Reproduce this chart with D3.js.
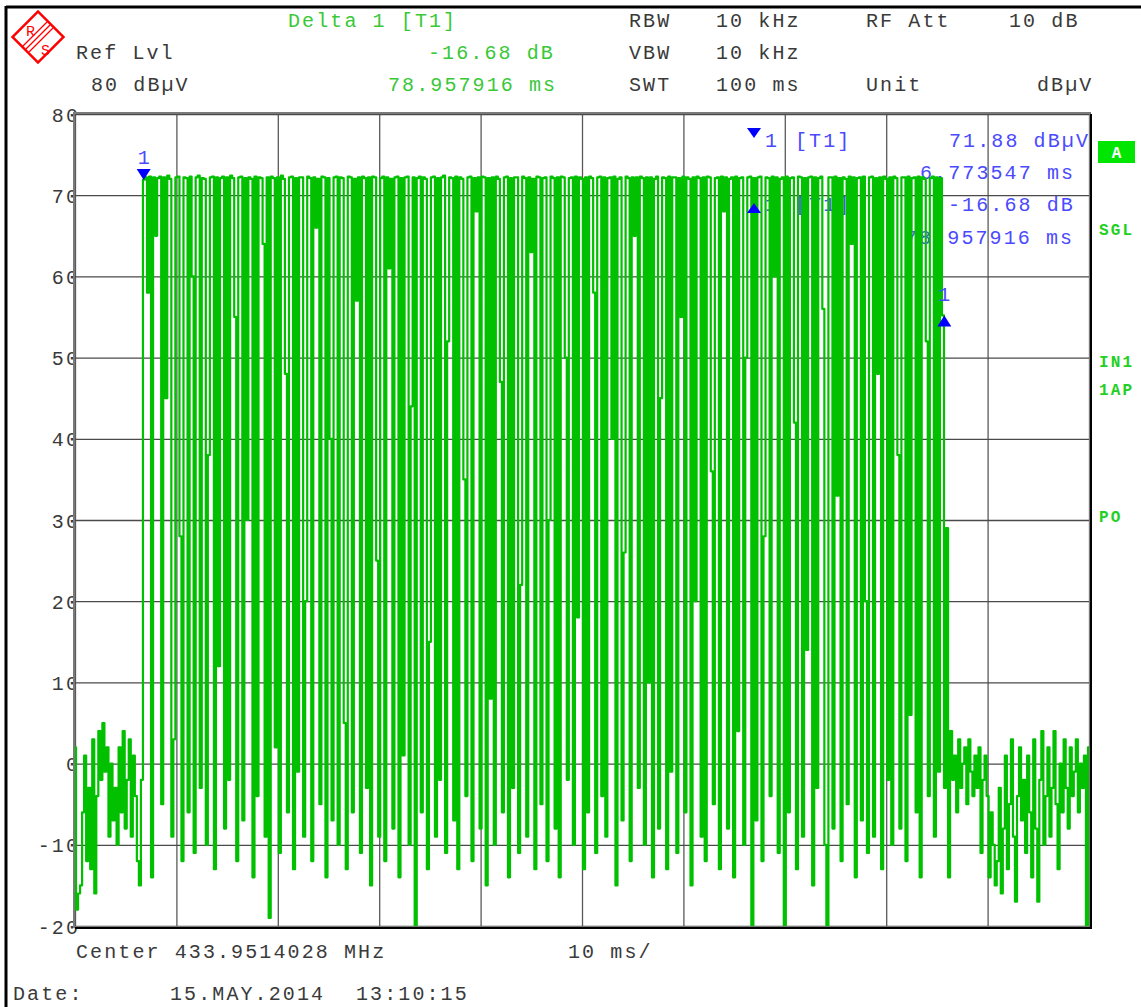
<!DOCTYPE html>
<html>
<head>
<meta charset="utf-8">
<script src="https://cdnjs.cloudflare.com/ajax/libs/d3/7.8.5/d3.min.js"></script>
<style>
  body { margin: 0; background: #fff; }
  text { font-family: "Liberation Mono", "Courier New", monospace; }
</style>
</head>
<body>
<div id="screen"></div>
<script>
// Canvas size
var width = 1141;
var height = 1007;

// Plot area of the analyzer screen
var plotLeft = 75;
var plotRight = 1089;
var plotTop = 114;
var plotBottom = 926;

// Axis ranges
var sweepMs = 100;
var yTicks = [80, 70, 60, 50, 40, 30, 20, 10, 0, -10, -20];
var xTicks = [0, 10, 20, 30, 40, 50, 60, 70, 80, 90, 100];

// Marker readouts
var marker1Ms = 6.773547;
var marker1Db = 71.88;
var deltaMs = 78.957916;
var deltaDb = -16.68;

// Trace levels (dBuV), 501 sweep points, 0.2 ms apart
// Noise floor before the burst
var noiseBefore = [
  2, -18, -16, -15, -6, 1, -12, -3, -13, 3, -16, -4, 4, -2, 5, -1, 2,
  -9, 0, -7, -3, -10, 2, -6, 4, -8, -2, 3, -9, 1, -4, -12, -15, -2
];

// OOK burst
var burst = [
  71.9, 72.2, 58, 72.3, -14, 72.2, 65, 72.1, 72.3, -5,
  72.2, 45, 72.4, 72.0, -9, 3, 72.2, 72.3, 28, -12,
  72.2, 72.1, -6, 72.3, 60, -11, 72.2, 72.4, -3, 72.1,
  72.0, -10, 38, 72.2, 72.3, -13, 72.2, 12, 72.1, 72.3,
  -8, 72.2, -2, 72.4, 72.1, 55, -12, 72.2, 72.3, -7,
  72.1, 30, 72.2, 72.0, -14, 72.3, -4, 72.2, 72.1, 64,
  -9, 72.2, -19, 72.3, 72.1, 2, 72.2, -11, 72.4, 72.0,
  48, -6, 72.2, 72.3, -13, 72.1, -1, 72.2, 72.2, -9,
  20, 72.3, 72.1, -12, 72.2, 66, 72.0, -5, 72.3, 72.2,
  -14, 72.1, 40, -7, 72.2, 72.3, -10, 72.2, 72.1, 5,
  -13, 72.3, 72.2, -6, 72.0, 57, 72.2, -11, 72.3, 72.1,
  -3, 72.2, -15, 72.3, 72.2, 25, -9, 72.1, 72.3, -12,
  72.2, 61, 72.0, -8, 72.2, 72.3, -14, 72.1, 1, 72.2,
  72.3, -10, 44, 72.2, -20, 72.1, 72.3, -6, 72.2, 72.0,
  -13, 15, 72.2, 72.3, -9, 72.1, -2, 72.2, 72.4, -11,
  52, 72.2, 72.1, -7, 72.3, -13, 72.2, 72.0, 35, -4,
  72.2, 72.3, -12, 72.1, 68, 72.2, -8, 72.3, 72.2, -15,
  72.1, 8, 72.2, -10, 72.3, 72.0, 47, -6, 72.2, 72.3,
  -14, 72.1, -3, 72.2, 72.2, -11, 22, 72.3, 72.1, -9,
  72.2, 63, 72.0, -13, 72.3, 72.2, -5, 72.1, 72.2, -12,
  30, 72.3, 72.1, -8, 72.2, -14, 72.3, 72.2, 50, -2,
  72.1, 72.2, -10, 72.3, 18, 72.2, 72.0, -13, 72.2, -6,
  72.3, 72.1, 58, -11, 72.2, 72.3, -4, 72.2, -9, 72.1,
  72.2, 40, 72.3, -15, 72.0, 72.2, -7, 26, 72.3, 72.1,
  -12, 72.2, 65, 72.2, -3, 72.3, 72.1, -10, 72.2, 10,
  72.2, -14, 72.0, 72.3, -8, 45, 72.2, 72.1, -13, 72.3,
  -1, 72.2, 72.2, -11, 72.1, 55, 72.3, -6, 72.2, 72.0,
  -15, 72.2, 20, 72.3, 72.1, -9, 72.2, -12, 72.3, 72.2,
  36, -5, 72.1, 72.2, -13, 72.3, 68, 72.2, -8, 72.0,
  72.2, -14, 72.3, 4, 72.1, 72.2, -10, 50, 72.2, 72.3,
  -20, 72.1, -7, 72.2, 72.3, -12, 28, 72.2, 72.1, -4,
  72.3, 60, 72.2, -11, 72.0, 72.2, -20, 72.3, -6, 72.1,
  72.2, 42, -13, 72.3, 72.2, -9, 72.1, 14, 72.2, 72.3,
  -15, 72.2, -3, 72.1, 72.3, 56, -10, -20, 72.2, 72.2,
  -8, 72.3, 33, 72.1, -12, 72.2, 72.0, -5, 72.3, 64,
  72.2, -14, 72.1, 72.2, -7, 72.3, 20, -11, 72.2, 72.3,
  -9, 72.1, 48, 72.2, -13, 72.3, 72.0, -2, 72.2, -10,
  72.3, 72.1, 38, -8, 72.2, 72.2, -12, 72.3, 6, 72.1,
  72.2, -6, 72.3, -14, 72.2, 72.0, 52, -4, 72.1, 72.3,
  -9, 72.2, -1, 72.1, 55.2
];

// Noise floor after the burst
var noiseAfter = [
  -3, 29, -14, 4, -2, 1, -6, 3, -3, 0, 2,
  -5, 3, -1, -4, 1, -3, 2, -11, -2, 1,
  -4, -14, -6, -10, -15, -12, -3, -16, -8, 1,
  -13, -5, 3, -9, -17, -4, 2, -7, -2, -11,
  1, -6, -14, 3, -8, -17, -2, 4, -10, -4,
  2, -9, -3, 4, -5, -13, 0, -6, 3, -3,
  -8, 2, -4, -1, 3, -6, 0, -3, 1, -20, 2
];

var trace = noiseBefore.concat(burst, noiseAfter);

// Colours
var traceColor = "#00c000";
var headGreen = "#38c838";
var textGray = "#3a3a3a";
var markBlue = "#0000ff";
var infoBlue = "#4a4aff";

var svg = d3
  .select("#screen")
  .append("svg")
  .attr("width", width)
  .attr("height", height);

svg.append("rect").attr("width", width).attr("height", height).attr("fill", "#fff");

// Outer screen frame (top and left)
svg.append("line").attr("x1", 6).attr("y1", 7).attr("x2", width).attr("y2", 7)
  .attr("stroke", "#000").attr("stroke-width", 3);
svg.append("line").attr("x1", 6).attr("y1", 6).attr("x2", 6).attr("y2", height)
  .attr("stroke", "#000").attr("stroke-width", 3);

// Scales
var xScale = d3.scaleLinear().domain([0, sweepMs]).range([plotLeft, plotRight]);
var yScale = d3.scaleLinear().domain([-20, 80]).range([plotBottom, plotTop]);

// Helper for screen text
function label(x, y, str, color, opts) {
  opts = opts || {};
  return svg.append("text")
    .attr("x", x)
    .attr("y", y)
    .attr("fill", color)
    .attr("font-size", opts.size || 20)
    .attr("font-weight", opts.bold ? "bold" : "normal")
    .attr("letter-spacing", opts.ls === undefined ? 2.1 : opts.ls)
    .attr("text-anchor", opts.anchor || "start")
    .text(str);
}

// Rohde & Schwarz logo
var logo = svg.append("g").attr("transform", "translate(38,37)");
logo.append("rect")
  .attr("x", -18).attr("y", -18).attr("width", 36).attr("height", 36)
  .attr("transform", "rotate(45)")
  .attr("fill", "none").attr("stroke", "#ff0000").attr("stroke-width", 2.5);
[-3, 0, 3].forEach(function(o) {
  logo.append("line")
    .attr("x1", -12 + o).attr("y1", 12 + o).attr("x2", 12 + o).attr("y2", -12 + o)
    .attr("stroke", "#ff0000").attr("stroke-width", 1.3);
});
logo.append("text").attr("x", -12).attr("y", -1).attr("fill", "#ff0000")
  .attr("font-size", 15).attr("font-family", "Liberation Serif, serif").text("R");
logo.append("text").attr("x", 3).attr("y", 18).attr("fill", "#ff0000")
  .attr("font-size", 15).attr("font-family", "Liberation Serif, serif").text("S");

// Header readouts
label(288, 27, "Delta 1 [T1]", headGreen);
label(428, 59, "-16.68 dB", headGreen);
label(388, 91, "78.957916 ms", headGreen);
label(76, 59, "Ref Lvl", textGray);
label(91, 91, "80 dBµV", textGray);
label(629, 27, "RBW", textGray);
label(716, 27, "10 kHz", textGray);
label(629, 59, "VBW", textGray);
label(716, 59, "10 kHz", textGray);
label(629, 91, "SWT", textGray);
label(716, 91, "100 ms", textGray);
label(866, 27, "RF Att", textGray);
label(1009, 27, "10 dB", textGray);
label(866, 91, "Unit", textGray);
label(1037, 91, "dBµV", textGray);

// Y labels (drawn before the plot so the frame clips the last digit)
var yAxis = d3.axisLeft(yScale)
  .tickValues(yTicks)
  .tickSize(0)
  .tickPadding(0)
  .tickFormat(function(d) { return String(d); });
var yAxisG = svg.append("g")
  .attr("transform", "translate(" + (plotLeft + 5) + ",0)")
  .call(yAxis);
yAxisG.select(".domain").remove();
yAxisG.selectAll("text")
  .attr("fill", textGray)
  .attr("font-size", 20)
  .attr("letter-spacing", 2.1)
  .attr("font-family", "Liberation Mono, monospace")
  .attr("dy", "0.35em");

// Plot background
svg.append("rect")
  .attr("x", plotLeft - 2).attr("y", plotTop)
  .attr("width", plotRight - plotLeft + 2).attr("height", plotBottom - plotTop)
  .attr("fill", "#fff");

// Grid
var xGrid = d3.axisBottom(xScale).tickValues(xTicks).tickSize(-(plotBottom - plotTop)).tickFormat("");
var xGridG = svg.append("g").attr("transform", "translate(0," + plotBottom + ")").call(xGrid);
xGridG.select(".domain").remove();
xGridG.selectAll("line").attr("stroke", "#5a5a5a").attr("stroke-width", 1.3);

var yGrid = d3.axisLeft(yScale).tickValues(yTicks).tickSize(-(plotRight - plotLeft)).tickFormat("");
var yGridG = svg.append("g").attr("transform", "translate(" + plotLeft + ",0)").call(yGrid);
yGridG.select(".domain").remove();
yGridG.selectAll("line").attr("stroke", "#4a4a4a").attr("stroke-width", 1.3);

// Marker info text
label(765, 147, "1", infoBlue);
label(795, 147, "[T1]", infoBlue);
label(765, 211, "1", infoBlue);
label(795, 211, "[T1]", infoBlue);
label(949, 147, "71.88 dBµV", infoBlue);
label(920, 179, "6.773547 ms", infoBlue);
label(948, 211, "-16.68 dB", infoBlue);
label(905, 244, "78.957916 ms", infoBlue);

// Trace
svg.append("clipPath").attr("id", "plotClip")
  .append("rect")
  .attr("x", plotLeft).attr("y", plotTop - 1)
  .attr("width", plotRight - plotLeft).attr("height", plotBottom - plotTop + 2);

var traceLine = d3.line()
  .curve(d3.curveStep)
  .x(function(d, i) { return xScale(i * sweepMs / (trace.length - 1)); })
  .y(function(d) { return yScale(d); });

svg.append("path")
  .datum(trace)
  .attr("clip-path", "url(#plotClip)")
  .attr("d", traceLine)
  .attr("fill", "none")
  .attr("stroke", traceColor)
  .attr("stroke-width", 2.2)
  .attr("stroke-linejoin", "round");

// Info block triangles (above the trace)
svg.append("path")
  .attr("d", "M747,128L761,128L754,138Z")
  .attr("fill", markBlue);
svg.append("path")
  .attr("d", "M747,213L761,213L754,203Z")
  .attr("fill", markBlue);

// Markers on the trace
var m1x = xScale(marker1Ms);
var m1y = yScale(marker1Db);
svg.append("path")
  .attr("d", "M" + (m1x - 7) + "," + (m1y - 11) + "L" + (m1x + 7) + "," + (m1y - 11) + "L" + m1x + "," + m1y + "Z")
  .attr("fill", markBlue);
label(m1x, m1y - 16, "1", infoBlue, { anchor: "middle", ls: 0 });

var m2x = xScale(marker1Ms + deltaMs);
var m2y = yScale(marker1Db + deltaDb);
svg.append("path")
  .attr("d", "M" + (m2x - 7) + "," + (m2y + 11) + "L" + (m2x + 7) + "," + (m2y + 11) + "L" + m2x + "," + m2y + "Z")
  .attr("fill", markBlue);
label(m2x, m2y - 14, "1", infoBlue, { anchor: "middle", ls: 0 });

// Plot frame
svg.append("rect")
  .attr("x", plotLeft - 1).attr("y", plotTop - 1)
  .attr("width", plotRight - plotLeft + 2).attr("height", plotBottom - plotTop + 2)
  .attr("fill", "none").attr("stroke", "#7a7a7a").attr("stroke-width", 2);
svg.append("path")
  .attr("d", "M" + (plotRight + 2) + "," + (plotTop) + "V" + (plotBottom + 2) + "H" + (plotLeft))
  .attr("fill", "none").attr("stroke", "#000").attr("stroke-width", 2);

// Side panel
svg.append("rect").attr("x", 1098).attr("y", 141).attr("width", 37).attr("height", 22).attr("fill", "#00e600");
label(1116.5, 158, "A", "#fff", { anchor: "middle", bold: true, size: 16, ls: 0 });
label(1099, 235, "SGL", "#22d022", { bold: true, size: 16, ls: 2.2 });
label(1099, 367, "IN1", "#22d022", { bold: true, size: 16, ls: 2.2 });
label(1099, 395, "1AP", "#22d022", { bold: true, size: 16, ls: 2.2 });
label(1099, 522, "PO", "#22d022", { bold: true, size: 16, ls: 2.2 });

// Footer
label(76, 958, "Center 433.9514028 MHz", textGray);
label(568, 958, "10 ms/", textGray);
label(13, 1000, "Date:", textGray);
label(170, 1000, "15.MAY.2014", textGray);
label(356, 1000, "13:10:15", textGray);
</script>
</body>
</html>
